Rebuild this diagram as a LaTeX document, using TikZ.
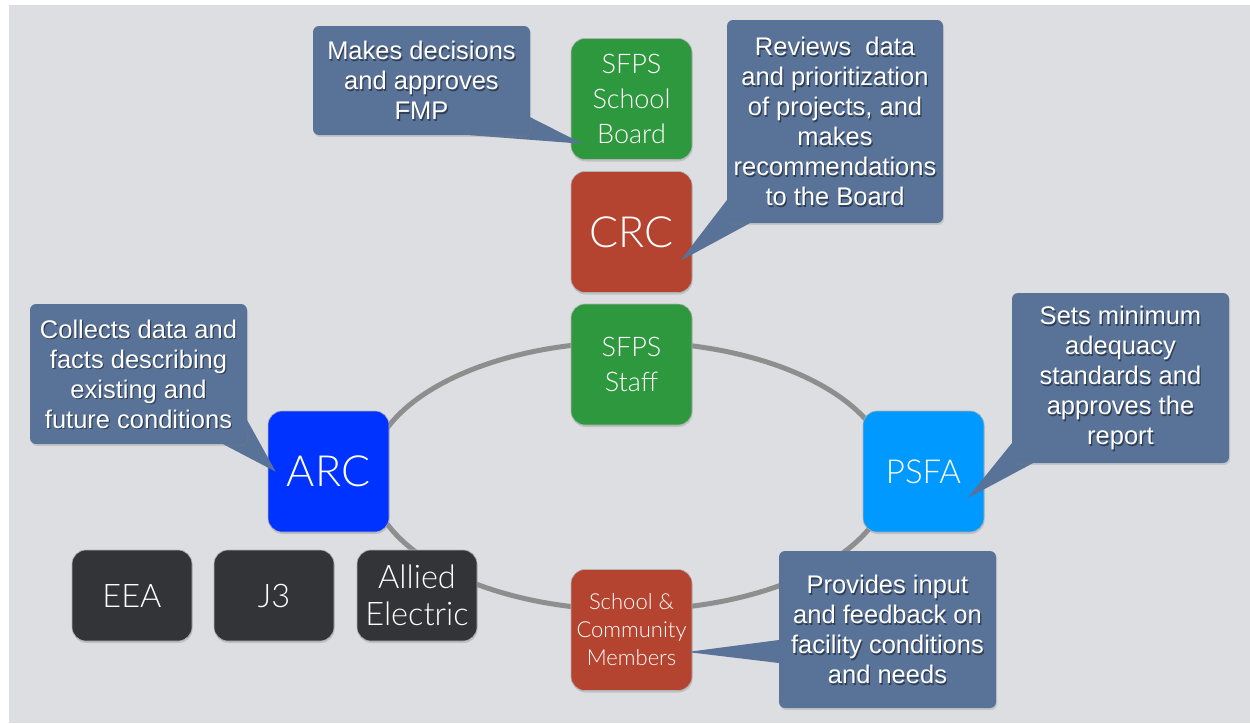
\documentclass[tikz,border=0pt]{standalone}
\usepackage{fontspec}
\setmainfont{Liberation Sans}
\newfontfamily\gillfont{Lato Light}
\newfontfamily\neuefont{Lato Light}
\usetikzlibrary{shadows,calc}

\definecolor{bgray}{RGB}{221,222,226}
\definecolor{ringgray}{RGB}{142,142,142}
\definecolor{boardgreen}{RGB}{46,152,62}
\definecolor{brick}{RGB}{180,67,48}
\definecolor{arcblue}{RGB}{0,51,255}
\definecolor{skyblue}{RGB}{0,153,255}
\definecolor{charcoal}{RGB}{51,52,56}
\definecolor{slate}{RGB}{88,114,152}

\pgfdeclarelayer{back}
\pgfdeclarelayer{ptr}
\pgfdeclarelayer{front}
\pgfsetlayers{back,main,ptr,front}

\tikzset{
  unit/.style={rounded corners=14pt, draw=black!30, line width=0.6pt,
    text=white, align=center, inner sep=0pt,
    minimum width=121pt, minimum height=121pt,
    drop shadow={shadow xshift=0.6pt, shadow yshift=-2pt, opacity=0.3}},
  firm/.style={unit, fill=charcoal, minimum width=120pt, minimum height=91pt,
    font=\neuefont\fontsize{32.5}{37}\selectfont},
  ring/.style={draw=ringgray, line width=5pt},
  cbox/.style={rounded corners=6pt, fill=slate, inner sep=0pt,
    drop shadow={shadow xshift=1pt, shadow yshift=-2pt, opacity=0.25}},
  ctext/.style={align=center, text=white, inner sep=0pt,
    font=\fontsize{25.5}{30}\selectfont},
  pointer/.style={fill=slate},
}

% callout box: name, centre, width, height, text
\newcommand\calloutnote[5]{%
  \node[cbox, minimum width=#3, minimum height=#4] (#1) at #2 {};
  \node[ctext, text=black, opacity=0.45] (#1-shade) at ($(#1.center)+(1.2,1.6)$) {#5};
  \node[ctext] (#1-text) at (#1.center) {#5};
}

\begin{document}
\begin{tikzpicture}[x=1pt,y=-1pt]
\useasboundingbox (0,0) rectangle (1250,723);

\begin{pgfonlayer}{back}
  \fill[white] (0,0) rectangle (1250,723);
  \fill[bgray] (9,5) rectangle (1250,723);
  \coordinate (hub) at (630,476);
  \draw[ring] (hub) ellipse [x radius=260pt, y radius=134pt];
\end{pgfonlayer}

% organisation units
\node[unit, fill=boardgreen, font=\gillfont\fontsize{27}{35}\selectfont]
  (board) at (631.5,99) {SFPS\\School\\Board};
\node[unit, fill=brick, font=\gillfont\fontsize{43}{45}\selectfont]
  (crc) at (631.5,232) {CRC};
\node[unit, fill=boardgreen, font=\gillfont\fontsize{27}{35}\selectfont]
  (staff) at (631.5,364.5) {SFPS\\Staff};
\node[unit, fill=arcblue, font=\gillfont\fontsize{43}{45}\selectfont]
  (arc) at (328.5,471.5) {ARC};
\node[unit, fill=skyblue, font=\neuefont\fontsize{33}{36}\selectfont]
  (psfa) at (923.5,471.5) {PSFA};
\node[unit, fill=brick, font=\gillfont\fontsize{22}{28}\selectfont]
  (scm) at (631.5,630) {School \&\\Community\\Members};

% consultants
\node[firm] (eea) at (132,595.5) {EEA};
\node[firm] (j3) at (274,595.5) {J3};
\node[firm, font=\neuefont\fontsize{32.5}{37}\selectfont] (allied) at (417,595.5) {Allied\\Electric};

% role descriptions
\begin{pgfonlayer}{front}
  \calloutnote{cboard}{(421.5,80.5)}{217pt}{109pt}{Makes decisions\\and approves\\FMP}
  \calloutnote{ccrc}{(835,121.5)}{216pt}{203pt}{Reviews\ \ data\\and prioritization\\of projects, and\\makes\\recommendations\\to the Board}
  \calloutnote{cpsfa}{(1120.5,378)}{217pt}{170pt}{Sets minimum\\adequacy\\standards and\\approves the\\report}
  \calloutnote{carc}{(138.5,374)}{217pt}{140pt}{Collects data and\\facts describing\\existing and\\future conditions}
  \calloutnote{cscm}{(887.5,629.5)}{217pt}{157pt}{Provides input\\and feedback on\\facility conditions\\and needs}
\end{pgfonlayer}

% callout pointers
\begin{pgfonlayer}{ptr}
  \fill[pointer] ($(cboard.south east)+(0,-18)$) -- ($(board.south west)+(12,-16)$) -- ($(cboard.south east)+(-60,0)$) -- cycle;
  \fill[pointer] ($(ccrc.south west)+(0,-23)$) -- ($(crc.south east)+(-12,-32)$) -- ($(ccrc.south west)+(23,0)$) -- cycle;
  \fill[pointer] ($(cpsfa.south west)+(0,-20)$) -- ($(psfa.south east)+(-17,-34)$) -- ($(cpsfa.south west)+(21,0)$) -- cycle;
  \fill[pointer] ($(carc.south east)+(-24,0)$) -- ($(arc.north west)+(8,61)$) -- ($(carc.south east)+(0,-24)$) -- cycle;
  \fill[pointer] ($(cscm.west)+(0,10.5)$) -- ($(scm.east)+(-5,22)$) -- ($(cscm.west)+(0,33.5)$) -- cycle;
\end{pgfonlayer}
\end{tikzpicture}
\end{document}
